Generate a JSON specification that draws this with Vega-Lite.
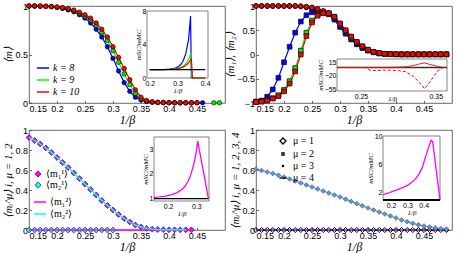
{
"$schema":"https://vega.github.io/schema/vega-lite/v6.json",
"background":"white",
"padding":{"left":2,"top":1,"right":0,"bottom":0},
"autosize":{"type":"pad"},
"columns":2,
"spacing":{"row":27,"column":31},
"bounds":"flush",
"datasets":{
"A":[
{"x":0.15,"v":1,"k":"k = 8"},{"x":0.16,"v":1,"k":"k = 8"},{"x":0.17,"v":0.998,"k":"k = 8"},{"x":0.18,"v":0.996,"k":"k = 8"},{"x":0.19,"v":0.992,"k":"k = 8"},{"x":0.2,"v":0.985,"k":"k = 8"},{"x":0.21,"v":0.975,"k":"k = 8"},{"x":0.22,"v":0.96,"k":"k = 8"},{"x":0.23,"v":0.94,"k":"k = 8"},{"x":0.24,"v":0.91,"k":"k = 8"},{"x":0.25,"v":0.875,"k":"k = 8"},{"x":0.26,"v":0.825,"k":"k = 8"},{"x":0.27,"v":0.76,"k":"k = 8"},{"x":0.28,"v":0.68,"k":"k = 8"},{"x":0.29,"v":0.58,"k":"k = 8"},{"x":0.3,"v":0.46,"k":"k = 8"},{"x":0.31,"v":0.33,"k":"k = 8"},{"x":0.32,"v":0.21,"k":"k = 8"},{"x":0.33,"v":0.12,"k":"k = 8"},{"x":0.34,"v":0.06,"k":"k = 8"},{"x":0.35,"v":0.03,"k":"k = 8"},{"x":0.36,"v":0.015,"k":"k = 8"},{"x":0.37,"v":0.008,"k":"k = 8"},{"x":0.38,"v":0.005,"k":"k = 8"},{"x":0.39,"v":0.004,"k":"k = 8"},{"x":0.4,"v":0.003,"k":"k = 8"},{"x":0.41,"v":0.003,"k":"k = 8"},{"x":0.42,"v":0.002,"k":"k = 8"},{"x":0.43,"v":0.002,"k":"k = 8"},{"x":0.44,"v":0.002,"k":"k = 8"},{"x":0.45,"v":0.002,"k":"k = 8"},{"x":0.46,"v":0.002,"k":"k = 8"},
{"x":0.15,"v":1,"k":"k = 9"},{"x":0.16,"v":1,"k":"k = 9"},{"x":0.17,"v":0.999,"k":"k = 9"},{"x":0.18,"v":0.997,"k":"k = 9"},{"x":0.19,"v":0.994,"k":"k = 9"},{"x":0.2,"v":0.988,"k":"k = 9"},{"x":0.21,"v":0.98,"k":"k = 9"},{"x":0.22,"v":0.968,"k":"k = 9"},{"x":0.23,"v":0.95,"k":"k = 9"},{"x":0.24,"v":0.925,"k":"k = 9"},{"x":0.25,"v":0.895,"k":"k = 9"},{"x":0.26,"v":0.855,"k":"k = 9"},{"x":0.27,"v":0.8,"k":"k = 9"},{"x":0.28,"v":0.73,"k":"k = 9"},{"x":0.29,"v":0.645,"k":"k = 9"},{"x":0.3,"v":0.54,"k":"k = 9"},{"x":0.31,"v":0.42,"k":"k = 9"},{"x":0.32,"v":0.3,"k":"k = 9"},{"x":0.33,"v":0.19,"k":"k = 9"},{"x":0.34,"v":0.1,"k":"k = 9"},{"x":0.35,"v":0.045,"k":"k = 9"},{"x":0.36,"v":0.02,"k":"k = 9"},{"x":0.37,"v":0.01,"k":"k = 9"},{"x":0.38,"v":0.006,"k":"k = 9"},{"x":0.39,"v":0.004,"k":"k = 9"},{"x":0.4,"v":0.003,"k":"k = 9"},{"x":0.41,"v":0.003,"k":"k = 9"},{"x":0.42,"v":0.002,"k":"k = 9"},{"x":0.43,"v":0.002,"k":"k = 9"},{"x":0.44,"v":0.002,"k":"k = 9"},{"x":0.48,"v":0.002,"k":"k = 9","s":"b"},{"x":0.49,"v":0.002,"k":"k = 9","s":"b"},
{"x":0.15,"v":1,"k":"k = 10"},{"x":0.16,"v":1,"k":"k = 10"},{"x":0.17,"v":1,"k":"k = 10"},{"x":0.18,"v":0.998,"k":"k = 10"},{"x":0.19,"v":0.995,"k":"k = 10"},{"x":0.2,"v":0.99,"k":"k = 10"},{"x":0.21,"v":0.983,"k":"k = 10"},{"x":0.22,"v":0.973,"k":"k = 10"},{"x":0.23,"v":0.958,"k":"k = 10"},{"x":0.24,"v":0.937,"k":"k = 10"},{"x":0.25,"v":0.91,"k":"k = 10"},{"x":0.26,"v":0.875,"k":"k = 10"},{"x":0.27,"v":0.825,"k":"k = 10"},{"x":0.28,"v":0.76,"k":"k = 10"},{"x":0.29,"v":0.68,"k":"k = 10"},{"x":0.3,"v":0.58,"k":"k = 10"},{"x":0.31,"v":0.47,"k":"k = 10"},{"x":0.32,"v":0.355,"k":"k = 10"},{"x":0.33,"v":0.24,"k":"k = 10"},{"x":0.34,"v":0.135,"k":"k = 10"},{"x":0.35,"v":0.06,"k":"k = 10"},{"x":0.36,"v":0.025,"k":"k = 10"},{"x":0.37,"v":0.012,"k":"k = 10"},{"x":0.38,"v":0.007,"k":"k = 10"},{"x":0.39,"v":0.005,"k":"k = 10"},{"x":0.4,"v":0.004,"k":"k = 10"},{"x":0.41,"v":0.003,"k":"k = 10"},{"x":0.42,"v":0.003,"k":"k = 10"},{"x":0.43,"v":0.003,"k":"k = 10"},{"x":0.44,"v":0.003,"k":"k = 10"},{"x":0.45,"v":0.003,"k":"k = 10"}
],
"AI":[
{"x":0.2,"r":1,"k":"k = 8"},{"x":0.25,"r":1.01,"k":"k = 8"},{"x":0.27,"r":1.05,"k":"k = 8"},{"x":0.29,"r":1.15,"k":"k = 8"},{"x":0.3,"r":1.3,"k":"k = 8"},{"x":0.31,"r":1.55,"k":"k = 8"},{"x":0.32,"r":2,"k":"k = 8"},{"x":0.33,"r":2.9,"k":"k = 8"},{"x":0.34,"r":4.6,"k":"k = 8"},{"x":0.347,"r":7.4,"k":"k = 8"},{"x":0.35,"r":0.02,"k":"k = 8"},{"x":0.4,"r":0,"k":"k = 8"},
{"x":0.2,"r":1,"k":"k = 9"},{"x":0.27,"r":1.02,"k":"k = 9"},{"x":0.29,"r":1.08,"k":"k = 9"},{"x":0.31,"r":1.22,"k":"k = 9"},{"x":0.32,"r":1.4,"k":"k = 9"},{"x":0.33,"r":1.7,"k":"k = 9"},{"x":0.34,"r":2.2,"k":"k = 9"},{"x":0.348,"r":3,"k":"k = 9"},{"x":0.352,"r":0.02,"k":"k = 9"},{"x":0.4,"r":0,"k":"k = 9"},
{"x":0.2,"r":1,"k":"k = 10"},{"x":0.28,"r":1.02,"k":"k = 10"},{"x":0.3,"r":1.1,"k":"k = 10"},{"x":0.32,"r":1.3,"k":"k = 10"},{"x":0.33,"r":1.5,"k":"k = 10"},{"x":0.34,"r":1.8,"k":"k = 10"},{"x":0.35,"r":2.3,"k":"k = 10"},{"x":0.354,"r":0.02,"k":"k = 10"},{"x":0.4,"r":0,"k":"k = 10"}
],
"B":[
{"x":0.15,"v":1,"k":"8","c":"m1"},{"x":0.16,"v":1,"k":"8","c":"m1"},{"x":0.17,"v":1,"k":"8","c":"m1"},{"x":0.18,"v":1,"k":"8","c":"m1"},{"x":0.19,"v":1,"k":"8","c":"m1"},{"x":0.2,"v":1,"k":"8","c":"m1"},{"x":0.21,"v":1,"k":"8","c":"m1"},{"x":0.22,"v":1,"k":"8","c":"m1"},{"x":0.23,"v":0.99,"k":"8","c":"m1"},{"x":0.24,"v":0.97,"k":"8","c":"m1"},{"x":0.25,"v":0.94,"k":"8","c":"m1"},{"x":0.26,"v":0.905,"k":"8","c":"m1"},{"x":0.27,"v":0.875,"k":"8","c":"m1"},{"x":0.28,"v":0.83,"k":"8","c":"m1"},{"x":0.29,"v":0.72,"k":"8","c":"m1"},{"x":0.3,"v":0.57,"k":"8","c":"m1"},{"x":0.31,"v":0.43,"k":"8","c":"m1"},{"x":0.32,"v":0.31,"k":"8","c":"m1"},{"x":0.33,"v":0.21,"k":"8","c":"m1"},{"x":0.34,"v":0.135,"k":"8","c":"m1"},{"x":0.35,"v":0.08,"k":"8","c":"m1"},{"x":0.36,"v":0.045,"k":"8","c":"m1"},{"x":0.37,"v":0.022,"k":"8","c":"m1"},{"x":0.38,"v":0.011,"k":"8","c":"m1"},{"x":0.39,"v":0.006,"k":"8","c":"m1"},{"x":0.4,"v":0.004,"k":"8","c":"m1"},{"x":0.41,"v":0.003,"k":"8","c":"m1"},{"x":0.42,"v":0.003,"k":"8","c":"m1"},{"x":0.43,"v":0.003,"k":"8","c":"m1"},{"x":0.44,"v":0.003,"k":"8","c":"m1"},{"x":0.45,"v":0.003,"k":"8","c":"m1"},{"x":0.46,"v":0.003,"k":"8","c":"m1"},{"x":0.47,"v":0.003,"k":"8","c":"m1"},{"x":0.48,"v":0.003,"k":"8","c":"m1"},{"x":0.49,"v":0.003,"k":"8","c":"m1"},
{"x":0.15,"v":-0.97,"k":"8","c":"m2"},{"x":0.16,"v":-0.95,"k":"8","c":"m2"},{"x":0.17,"v":-0.87,"k":"8","c":"m2"},{"x":0.18,"v":-0.72,"k":"8","c":"m2"},{"x":0.19,"v":-0.48,"k":"8","c":"m2"},{"x":0.2,"v":-0.16,"k":"8","c":"m2"},{"x":0.21,"v":0.16,"k":"8","c":"m2"},{"x":0.22,"v":0.45,"k":"8","c":"m2"},{"x":0.23,"v":0.68,"k":"8","c":"m2"},{"x":0.24,"v":0.81,"k":"8","c":"m2"},{"x":0.25,"v":0.87,"k":"8","c":"m2"},{"x":0.26,"v":0.88,"k":"8","c":"m2"},{"x":0.27,"v":0.875,"k":"8","c":"m2"},{"x":0.28,"v":0.83,"k":"8","c":"m2"},{"x":0.29,"v":0.72,"k":"8","c":"m2"},{"x":0.3,"v":0.57,"k":"8","c":"m2"},{"x":0.31,"v":0.43,"k":"8","c":"m2"},{"x":0.32,"v":0.31,"k":"8","c":"m2"},{"x":0.33,"v":0.21,"k":"8","c":"m2"},{"x":0.34,"v":0.135,"k":"8","c":"m2"},{"x":0.35,"v":0.08,"k":"8","c":"m2"},{"x":0.36,"v":0.045,"k":"8","c":"m2"},{"x":0.37,"v":0.022,"k":"8","c":"m2"},{"x":0.38,"v":0.011,"k":"8","c":"m2"},{"x":0.39,"v":0.006,"k":"8","c":"m2"},{"x":0.4,"v":0.004,"k":"8","c":"m2"},{"x":0.41,"v":0.003,"k":"8","c":"m2"},{"x":0.42,"v":0.003,"k":"8","c":"m2"},{"x":0.43,"v":0.003,"k":"8","c":"m2"},{"x":0.44,"v":0.003,"k":"8","c":"m2"},{"x":0.45,"v":0.003,"k":"8","c":"m2"},{"x":0.46,"v":0.003,"k":"8","c":"m2"},{"x":0.47,"v":0.003,"k":"8","c":"m2"},{"x":0.48,"v":0.003,"k":"8","c":"m2"},{"x":0.49,"v":0.003,"k":"8","c":"m2"},
{"x":0.15,"v":1,"k":"9","c":"m1"},{"x":0.16,"v":1,"k":"9","c":"m1"},{"x":0.17,"v":1,"k":"9","c":"m1"},{"x":0.18,"v":1,"k":"9","c":"m1"},{"x":0.19,"v":1,"k":"9","c":"m1"},{"x":0.2,"v":1,"k":"9","c":"m1"},{"x":0.21,"v":1,"k":"9","c":"m1"},{"x":0.22,"v":1,"k":"9","c":"m1"},{"x":0.23,"v":0.995,"k":"9","c":"m1"},{"x":0.24,"v":0.985,"k":"9","c":"m1"},{"x":0.25,"v":0.97,"k":"9","c":"m1"},{"x":0.26,"v":0.935,"k":"9","c":"m1"},{"x":0.27,"v":0.89,"k":"9","c":"m1"},{"x":0.28,"v":0.85,"k":"9","c":"m1"},{"x":0.29,"v":0.77,"k":"9","c":"m1"},{"x":0.3,"v":0.62,"k":"9","c":"m1"},{"x":0.31,"v":0.48,"k":"9","c":"m1"},{"x":0.32,"v":0.35,"k":"9","c":"m1"},{"x":0.33,"v":0.245,"k":"9","c":"m1"},{"x":0.34,"v":0.16,"k":"9","c":"m1"},{"x":0.35,"v":0.095,"k":"9","c":"m1"},{"x":0.36,"v":0.05,"k":"9","c":"m1"},{"x":0.37,"v":0.027,"k":"9","c":"m1"},{"x":0.38,"v":0.013,"k":"9","c":"m1"},{"x":0.39,"v":0.007,"k":"9","c":"m1"},{"x":0.4,"v":0.004,"k":"9","c":"m1"},{"x":0.41,"v":0.003,"k":"9","c":"m1"},{"x":0.42,"v":0.003,"k":"9","c":"m1"},{"x":0.43,"v":0.003,"k":"9","c":"m1"},{"x":0.44,"v":0.003,"k":"9","c":"m1"},{"x":0.45,"v":0.003,"k":"9","c":"m1"},{"x":0.46,"v":0.003,"k":"9","c":"m1"},{"x":0.47,"v":0.003,"k":"9","c":"m1"},{"x":0.48,"v":0.003,"k":"9","c":"m1"},{"x":0.49,"v":0.003,"k":"9","c":"m1"},
{"x":0.15,"v":-0.98,"k":"9","c":"m2"},{"x":0.16,"v":-0.97,"k":"9","c":"m2"},{"x":0.17,"v":-0.945,"k":"9","c":"m2"},{"x":0.18,"v":-0.9,"k":"9","c":"m2"},{"x":0.19,"v":-0.84,"k":"9","c":"m2"},{"x":0.2,"v":-0.73,"k":"9","c":"m2"},{"x":0.21,"v":-0.55,"k":"9","c":"m2"},{"x":0.22,"v":-0.28,"k":"9","c":"m2"},{"x":0.23,"v":0.08,"k":"9","c":"m2"},{"x":0.24,"v":0.45,"k":"9","c":"m2"},{"x":0.25,"v":0.7,"k":"9","c":"m2"},{"x":0.26,"v":0.82,"k":"9","c":"m2"},{"x":0.27,"v":0.86,"k":"9","c":"m2"},{"x":0.28,"v":0.85,"k":"9","c":"m2"},{"x":0.29,"v":0.77,"k":"9","c":"m2"},{"x":0.3,"v":0.62,"k":"9","c":"m2"},{"x":0.31,"v":0.48,"k":"9","c":"m2"},{"x":0.32,"v":0.35,"k":"9","c":"m2"},{"x":0.33,"v":0.245,"k":"9","c":"m2"},{"x":0.34,"v":0.16,"k":"9","c":"m2"},{"x":0.35,"v":0.095,"k":"9","c":"m2"},{"x":0.36,"v":0.05,"k":"9","c":"m2"},{"x":0.37,"v":0.027,"k":"9","c":"m2"},{"x":0.38,"v":0.013,"k":"9","c":"m2"},{"x":0.39,"v":0.007,"k":"9","c":"m2"},{"x":0.4,"v":0.004,"k":"9","c":"m2"},{"x":0.41,"v":0.003,"k":"9","c":"m2"},{"x":0.42,"v":0.003,"k":"9","c":"m2"},{"x":0.43,"v":0.003,"k":"9","c":"m2"},{"x":0.44,"v":0.003,"k":"9","c":"m2"},{"x":0.45,"v":0.003,"k":"9","c":"m2"},{"x":0.46,"v":0.003,"k":"9","c":"m2"},{"x":0.47,"v":0.003,"k":"9","c":"m2"},{"x":0.48,"v":0.003,"k":"9","c":"m2"},{"x":0.49,"v":0.003,"k":"9","c":"m2"},
{"x":0.15,"v":1,"k":"10","c":"m1"},{"x":0.16,"v":1,"k":"10","c":"m1"},{"x":0.17,"v":1,"k":"10","c":"m1"},{"x":0.18,"v":1,"k":"10","c":"m1"},{"x":0.19,"v":1,"k":"10","c":"m1"},{"x":0.2,"v":1,"k":"10","c":"m1"},{"x":0.21,"v":1,"k":"10","c":"m1"},{"x":0.22,"v":1,"k":"10","c":"m1"},{"x":0.23,"v":0.995,"k":"10","c":"m1"},{"x":0.24,"v":0.985,"k":"10","c":"m1"},{"x":0.25,"v":0.97,"k":"10","c":"m1"},{"x":0.26,"v":0.94,"k":"10","c":"m1"},{"x":0.27,"v":0.9,"k":"10","c":"m1"},{"x":0.28,"v":0.85,"k":"10","c":"m1"},{"x":0.29,"v":0.78,"k":"10","c":"m1"},{"x":0.3,"v":0.64,"k":"10","c":"m1"},{"x":0.31,"v":0.5,"k":"10","c":"m1"},{"x":0.32,"v":0.37,"k":"10","c":"m1"},{"x":0.33,"v":0.26,"k":"10","c":"m1"},{"x":0.34,"v":0.17,"k":"10","c":"m1"},{"x":0.35,"v":0.1,"k":"10","c":"m1"},{"x":0.36,"v":0.055,"k":"10","c":"m1"},{"x":0.37,"v":0.03,"k":"10","c":"m1"},{"x":0.38,"v":0.015,"k":"10","c":"m1"},{"x":0.39,"v":0.008,"k":"10","c":"m1"},{"x":0.4,"v":0.005,"k":"10","c":"m1"},{"x":0.41,"v":0.003,"k":"10","c":"m1"},{"x":0.42,"v":0.003,"k":"10","c":"m1"},{"x":0.43,"v":0.003,"k":"10","c":"m1"},{"x":0.44,"v":0.003,"k":"10","c":"m1"},{"x":0.45,"v":0.003,"k":"10","c":"m1"},{"x":0.46,"v":0.003,"k":"10","c":"m1"},{"x":0.47,"v":0.003,"k":"10","c":"m1"},{"x":0.48,"v":0.003,"k":"10","c":"m1"},{"x":0.49,"v":0.003,"k":"10","c":"m1"},
{"x":0.15,"v":-0.98,"k":"10","c":"m2"},{"x":0.16,"v":-0.97,"k":"10","c":"m2"},{"x":0.17,"v":-0.95,"k":"10","c":"m2"},{"x":0.18,"v":-0.91,"k":"10","c":"m2"},{"x":0.19,"v":-0.86,"k":"10","c":"m2"},{"x":0.2,"v":-0.76,"k":"10","c":"m2"},{"x":0.21,"v":-0.6,"k":"10","c":"m2"},{"x":0.22,"v":-0.35,"k":"10","c":"m2"},{"x":0.23,"v":0,"k":"10","c":"m2"},{"x":0.24,"v":0.38,"k":"10","c":"m2"},{"x":0.25,"v":0.66,"k":"10","c":"m2"},{"x":0.26,"v":0.8,"k":"10","c":"m2"},{"x":0.27,"v":0.85,"k":"10","c":"m2"},{"x":0.28,"v":0.85,"k":"10","c":"m2"},{"x":0.29,"v":0.78,"k":"10","c":"m2"},{"x":0.3,"v":0.64,"k":"10","c":"m2"},{"x":0.31,"v":0.5,"k":"10","c":"m2"},{"x":0.32,"v":0.37,"k":"10","c":"m2"},{"x":0.33,"v":0.26,"k":"10","c":"m2"},{"x":0.34,"v":0.17,"k":"10","c":"m2"},{"x":0.35,"v":0.1,"k":"10","c":"m2"},{"x":0.36,"v":0.055,"k":"10","c":"m2"},{"x":0.37,"v":0.03,"k":"10","c":"m2"},{"x":0.38,"v":0.015,"k":"10","c":"m2"},{"x":0.39,"v":0.008,"k":"10","c":"m2"},{"x":0.4,"v":0.005,"k":"10","c":"m2"},{"x":0.41,"v":0.003,"k":"10","c":"m2"},{"x":0.42,"v":0.003,"k":"10","c":"m2"},{"x":0.43,"v":0.003,"k":"10","c":"m2"},{"x":0.44,"v":0.003,"k":"10","c":"m2"},{"x":0.45,"v":0.003,"k":"10","c":"m2"},{"x":0.46,"v":0.003,"k":"10","c":"m2"},{"x":0.47,"v":0.003,"k":"10","c":"m2"},{"x":0.48,"v":0.003,"k":"10","c":"m2"},{"x":0.49,"v":0.003,"k":"10","c":"m2"}
],
"BI":[
{"x":0.22,"r":1,"t":"solid"},{"x":0.28,"r":1,"t":"solid"},{"x":0.3,"r":1.5,"t":"solid"},{"x":0.31,"r":3,"t":"solid"},{"x":0.32,"r":6,"t":"solid"},{"x":0.33,"r":11,"t":"solid"},{"x":0.335,"r":13,"t":"solid"},{"x":0.34,"r":10,"t":"solid"},{"x":0.35,"r":5,"t":"solid"},{"x":0.36,"r":1,"t":"solid"},
{"x":0.22,"r":1,"t":"dash"},{"x":0.255,"r":1,"t":"dash"},{"x":0.262,"r":-6,"t":"dash"},{"x":0.27,"r":-7,"t":"dash"},{"x":0.28,"r":-6,"t":"dash"},{"x":0.29,"r":-6,"t":"dash"},{"x":0.3,"r":-7,"t":"dash"},{"x":0.31,"r":-10,"t":"dash"},{"x":0.32,"r":-22,"t":"dash"},{"x":0.33,"r":-42,"t":"dash"},{"x":0.335,"r":-54,"t":"dash"},{"x":0.34,"r":-42,"t":"dash"},{"x":0.35,"r":-15,"t":"dash"},{"x":0.355,"r":-3,"t":"dash"},{"x":0.36,"r":1,"t":"dash"}
],
"C1":[
{"x":0.15,"v":0,"s":"⟨m₂¹⟩"},{"x":0.16,"v":0,"s":"⟨m₂¹⟩"},{"x":0.17,"v":0,"s":"⟨m₂¹⟩"},{"x":0.18,"v":0,"s":"⟨m₂¹⟩"},{"x":0.19,"v":0,"s":"⟨m₂¹⟩"},{"x":0.2,"v":0,"s":"⟨m₂¹⟩"},{"x":0.21,"v":0,"s":"⟨m₂¹⟩"},{"x":0.22,"v":0,"s":"⟨m₂¹⟩"},{"x":0.23,"v":0,"s":"⟨m₂¹⟩"},{"x":0.24,"v":0,"s":"⟨m₂¹⟩"},{"x":0.25,"v":0,"s":"⟨m₂¹⟩"},{"x":0.26,"v":0,"s":"⟨m₂¹⟩"},{"x":0.27,"v":0,"s":"⟨m₂¹⟩"},{"x":0.28,"v":0,"s":"⟨m₂¹⟩"},{"x":0.29,"v":0,"s":"⟨m₂¹⟩"},{"x":0.3,"v":0,"s":"⟨m₂¹⟩"},
{"x":0.15,"v":0.925,"s":"⟨m₁¹⟩"},{"x":0.16,"v":0.895,"s":"⟨m₁¹⟩"},{"x":0.17,"v":0.86,"s":"⟨m₁¹⟩"},{"x":0.18,"v":0.82,"s":"⟨m₁¹⟩"},{"x":0.19,"v":0.775,"s":"⟨m₁¹⟩"},{"x":0.2,"v":0.725,"s":"⟨m₁¹⟩"},{"x":0.21,"v":0.675,"s":"⟨m₁¹⟩"},{"x":0.22,"v":0.625,"s":"⟨m₁¹⟩"},{"x":0.23,"v":0.57,"s":"⟨m₁¹⟩"},{"x":0.24,"v":0.515,"s":"⟨m₁¹⟩"},{"x":0.25,"v":0.46,"s":"⟨m₁¹⟩"},{"x":0.26,"v":0.405,"s":"⟨m₁¹⟩"},{"x":0.27,"v":0.35,"s":"⟨m₁¹⟩"},{"x":0.28,"v":0.295,"s":"⟨m₁¹⟩"},{"x":0.29,"v":0.245,"s":"⟨m₁¹⟩"},{"x":0.3,"v":0.2,"s":"⟨m₁¹⟩"},{"x":0.31,"v":0.155,"s":"⟨m₁¹⟩"},{"x":0.32,"v":0.115,"s":"⟨m₁¹⟩"},{"x":0.33,"v":0.08,"s":"⟨m₁¹⟩"},{"x":0.34,"v":0.05,"s":"⟨m₁¹⟩"},{"x":0.35,"v":0.03,"s":"⟨m₁¹⟩"},{"x":0.36,"v":0.017,"s":"⟨m₁¹⟩"},{"x":0.37,"v":0.009,"s":"⟨m₁¹⟩"},{"x":0.38,"v":0.005,"s":"⟨m₁¹⟩"},{"x":0.39,"v":0.003,"s":"⟨m₁¹⟩"},{"x":0.4,"v":0.002,"s":"⟨m₁¹⟩"},{"x":0.41,"v":0.002,"s":"⟨m₁¹⟩"},{"x":0.42,"v":0.002,"s":"⟨m₁¹⟩"},{"x":0.43,"v":0.002,"s":"⟨m₁¹⟩"},{"x":0.44,"v":0.002,"s":"⟨m₁¹⟩"}
],
"C2":[
{"x":0.15,"v":0,"s":"⟨m₁²⟩"},{"x":0.44,"v":0,"s":"⟨m₁²⟩"},
{"x":0.15,"v":0.925,"s":"⟨m₂²⟩"},{"x":0.16,"v":0.895,"s":"⟨m₂²⟩"},{"x":0.17,"v":0.86,"s":"⟨m₂²⟩"},{"x":0.18,"v":0.82,"s":"⟨m₂²⟩"},{"x":0.19,"v":0.775,"s":"⟨m₂²⟩"},{"x":0.2,"v":0.725,"s":"⟨m₂²⟩"},{"x":0.21,"v":0.675,"s":"⟨m₂²⟩"},{"x":0.22,"v":0.625,"s":"⟨m₂²⟩"},{"x":0.23,"v":0.57,"s":"⟨m₂²⟩"},{"x":0.24,"v":0.515,"s":"⟨m₂²⟩"},{"x":0.25,"v":0.46,"s":"⟨m₂²⟩"},{"x":0.26,"v":0.405,"s":"⟨m₂²⟩"},{"x":0.27,"v":0.35,"s":"⟨m₂²⟩"},{"x":0.28,"v":0.295,"s":"⟨m₂²⟩"},{"x":0.29,"v":0.245,"s":"⟨m₂²⟩"},{"x":0.3,"v":0.2,"s":"⟨m₂²⟩"},{"x":0.31,"v":0.155,"s":"⟨m₂²⟩"},{"x":0.32,"v":0.115,"s":"⟨m₂²⟩"},{"x":0.33,"v":0.08,"s":"⟨m₂²⟩"},{"x":0.34,"v":0.05,"s":"⟨m₂²⟩"},{"x":0.35,"v":0.03,"s":"⟨m₂²⟩"},{"x":0.36,"v":0.017,"s":"⟨m₂²⟩"},{"x":0.37,"v":0.009,"s":"⟨m₂²⟩"},{"x":0.38,"v":0.005,"s":"⟨m₂²⟩"},{"x":0.39,"v":0.003,"s":"⟨m₂²⟩"},{"x":0.4,"v":0.002,"s":"⟨m₂²⟩"},{"x":0.41,"v":0.002,"s":"⟨m₂²⟩"},{"x":0.42,"v":0.002,"s":"⟨m₂²⟩"},{"x":0.43,"v":0.002,"s":"⟨m₂²⟩"}
],
"CI":[
{"x":0.15,"r":1.05},{"x":0.17,"r":1.07},{"x":0.19,"r":1.1},{"x":0.21,"r":1.15},{"x":0.23,"r":1.23},{"x":0.25,"r":1.38},{"x":0.26,"r":1.5},{"x":0.27,"r":1.68},{"x":0.28,"r":1.95},{"x":0.29,"r":2.35},{"x":0.3,"r":2.9},{"x":0.305,"r":3.33},{"x":0.343,"r":1}
],
"D0":[
{"x":0.15,"v":0,"mu":"μ = 1"},{"x":0.16,"v":0,"mu":"μ = 1"},{"x":0.17,"v":0,"mu":"μ = 1"},{"x":0.18,"v":0,"mu":"μ = 1"},{"x":0.19,"v":0,"mu":"μ = 1"},{"x":0.2,"v":0,"mu":"μ = 1"},{"x":0.21,"v":0,"mu":"μ = 1"},{"x":0.22,"v":0,"mu":"μ = 1"},{"x":0.23,"v":0,"mu":"μ = 1"},{"x":0.24,"v":0,"mu":"μ = 1"},{"x":0.25,"v":0,"mu":"μ = 1"},{"x":0.26,"v":0,"mu":"μ = 1"},{"x":0.27,"v":0,"mu":"μ = 1"},{"x":0.28,"v":0,"mu":"μ = 1"},{"x":0.29,"v":0,"mu":"μ = 1"},{"x":0.3,"v":0,"mu":"μ = 1"},{"x":0.31,"v":0,"mu":"μ = 1"},{"x":0.32,"v":0,"mu":"μ = 1"},{"x":0.33,"v":0,"mu":"μ = 1"},{"x":0.34,"v":0,"mu":"μ = 1"},{"x":0.35,"v":0,"mu":"μ = 1"},{"x":0.36,"v":0,"mu":"μ = 1"},{"x":0.37,"v":0,"mu":"μ = 1"},{"x":0.38,"v":0,"mu":"μ = 1"},{"x":0.39,"v":0,"mu":"μ = 1"},{"x":0.4,"v":0,"mu":"μ = 1"},{"x":0.41,"v":0,"mu":"μ = 1"},{"x":0.42,"v":0,"mu":"μ = 1"},{"x":0.43,"v":0,"mu":"μ = 1"},{"x":0.44,"v":0,"mu":"μ = 1"},{"x":0.45,"v":0,"mu":"μ = 1"},{"x":0.46,"v":0,"mu":"μ = 1"},{"x":0.47,"v":0,"mu":"μ = 1"},{"x":0.48,"v":0,"mu":"μ = 1"},{"x":0.49,"v":0,"mu":"μ = 1"}
],
"D1":[
{"x":0.15,"v":0.61},{"x":0.16,"v":0.595},{"x":0.17,"v":0.58},{"x":0.18,"v":0.565},{"x":0.19,"v":0.548},{"x":0.2,"v":0.53},{"x":0.21,"v":0.51},{"x":0.22,"v":0.49},{"x":0.23,"v":0.47},{"x":0.24,"v":0.45},{"x":0.25,"v":0.43},{"x":0.26,"v":0.41},{"x":0.27,"v":0.39},{"x":0.28,"v":0.37},{"x":0.29,"v":0.35},{"x":0.3,"v":0.33},{"x":0.31,"v":0.308},{"x":0.32,"v":0.286},{"x":0.33,"v":0.264},{"x":0.34,"v":0.242},{"x":0.35,"v":0.22},{"x":0.36,"v":0.2},{"x":0.37,"v":0.18},{"x":0.38,"v":0.16},{"x":0.39,"v":0.14},{"x":0.4,"v":0.12},{"x":0.41,"v":0.1},{"x":0.42,"v":0.083},{"x":0.43,"v":0.066},{"x":0.44,"v":0.052},{"x":0.45,"v":0.04},{"x":0.46,"v":0.03},{"x":0.47,"v":0.021},{"x":0.48,"v":0.014},{"x":0.49,"v":0.009}
],
"DI":[
{"x":0.15,"r":1.75},{"x":0.18,"r":1.95},{"x":0.21,"r":2.2},{"x":0.24,"r":2.45},{"x":0.27,"r":2.75},{"x":0.3,"r":3.05},{"x":0.33,"r":3.55},{"x":0.35,"r":4},{"x":0.37,"r":4.6},{"x":0.39,"r":5.5},{"x":0.41,"r":7},{"x":0.43,"r":8.4},{"x":0.445,"r":9.4},{"x":0.455,"r":9.2},{"x":0.5,"r":1}
]
},
"concat":[
{
"width":196,"height":97,
"layer":[
 {"data":{"name":"A"},
  "encoding":{
   "x":{"field":"x","type":"quantitative","scale":{"domain":[0.15,0.5],"nice":false,"zero":false},"axis":{"values":[0.15,0.2,0.25,0.3,0.35,0.4,0.45],"format":"~g","title":"1/β"}},
   "y":{"field":"v","type":"quantitative","scale":{"domain":[0,1],"nice":false,"zero":false},"axis":{"values":[0,0.5,1],"format":"~g","title":"⟨m⟩"}}},
  "layer":[
   {"mark":{"type":"line","strokeWidth":1.2},"encoding":{"stroke":{"field":"k","type":"nominal","scale":{"domain":["k = 8","k = 9","k = 10"],"range":["#0000ff","#00ff00","#ff0000"]},"legend":{"orient":"none","legendX":7,"legendY":55,"title":null}},"detail":{"field":"s","type":"nominal"}}},
   {"mark":{"type":"point","shape":"circle","filled":true,"size":20,"stroke":"#000","strokeWidth":0.6,"opacity":1},"encoding":{"fill":{"field":"k","type":"nominal","scale":{"domain":["k = 8","k = 9","k = 10"],"range":["#0000ff","#00ee00","#ff0000"]},"legend":null}}},
   {"data":{"values":[{}]},"mark":{"type":"text","font":"Liberation Serif","fontStyle":"italic","fontSize":7,"align":"left"},"encoding":{"x":{"datum":0.153},"y":{"datum":0.92},"text":{"value":"a"}}}
  ]},
 {"layer":[
   {"data":{"values":[{}]},"mark":{"type":"rect","fill":"#fff","stroke":"#666","strokeWidth":0.8},"encoding":{"x":{"datum":0.19},"x2":{"datum":0.41},"y":{"datum":0},"y2":{"datum":8}}},
   {"data":{"name":"AI"},"mark":{"type":"line","strokeWidth":1.2},"encoding":{
     "x":{"field":"x","type":"quantitative","scale":{"domain":[0.19,0.41],"range":[118,179],"nice":false,"zero":false},"axis":{"orient":"bottom","offset":-25,"values":[0.2,0.3,0.4],"format":"~g","title":"1/β","labelFontSize":7,"titleFontSize":7,"labelPadding":1,"titlePadding":0,"ticks":false}},
     "y":{"field":"r","type":"quantitative","scale":{"domain":[0,8],"range":[72,5],"nice":false,"zero":false},"axis":{"orient":"left","offset":-118,"values":[0,2,4,6,8],"format":"d","title":"mSC/mMC","labelFontSize":7,"titleFontSize":7,"labelPadding":1,"titlePadding":1,"ticks":false}},
     "stroke":{"field":"k","type":"nominal","scale":{"domain":["k = 8","k = 9","k = 10"],"range":["#0000ff","#00ff00","#ff0000"]},"legend":null}}},
   {"data":{"values":[{"x":0.2,"r":1},{"x":0.4,"r":1}]},"mark":{"type":"line","stroke":"#000","strokeWidth":1.3},"encoding":{"x":{"field":"x","type":"quantitative"},"y":{"field":"r","type":"quantitative"}}}
 ]}
],
"resolve":{"scale":{"x":"independent","y":"independent","stroke":"independent","fill":"independent"},"axis":{"x":"independent","y":"independent"}}
},
{
"width":196,"height":97,
"layer":[
 {"data":{"name":"B"},
  "encoding":{
   "x":{"field":"x","type":"quantitative","scale":{"domain":[0.15,0.5],"nice":false,"zero":false},"axis":{"values":[0.15,0.2,0.25,0.3,0.35,0.4,0.45],"format":"~g","title":"1/β"}},
   "y":{"field":"v","type":"quantitative","scale":{"domain":[-1,1],"nice":false,"zero":false},"axis":{"values":[-1,-0.5,0,0.5,1],"format":"~g","title":"⟨m₁⟩, ⟨m₂⟩"}}},
  "layer":[
   {"mark":{"type":"line","strokeWidth":1.2},"encoding":{"stroke":{"field":"k","type":"nominal","scale":{"domain":["8","9","10"],"range":["#0000ff","#00ff00","#ff0000"]},"legend":null},"detail":{"field":"c","type":"nominal"}}},
   {"mark":{"type":"point","filled":true,"size":22,"stroke":"#111","strokeWidth":0.8,"opacity":1},"encoding":{"fill":{"field":"k","type":"nominal","scale":{"domain":["8","9","10"],"range":["#0000ff","#00ee00","#ff0000"]},"legend":null},"shape":{"field":"c","type":"nominal","scale":{"domain":["m1","m2"],"range":["circle","square"]},"legend":null}}},
   {"data":{"values":[{}]},"mark":{"type":"text","font":"Liberation Serif","fontStyle":"italic","fontSize":7,"align":"left"},"encoding":{"x":{"datum":0.155},"y":{"datum":0.82},"text":{"value":"b"}}}
  ]},
 {"layer":[
   {"data":{"values":[{}]},"mark":{"type":"rect","fill":"#fff","stroke":"#666","strokeWidth":0.8},"encoding":{"x":{"datum":0.218},"x2":{"datum":0.365},"y":{"datum":-60},"y2":{"datum":23}}},
   {"data":{"values":[{"x":0.218,"r":1},{"x":0.365,"r":1}]},"mark":{"type":"line","stroke":"#333","strokeWidth":1.3},"encoding":{"x":{"field":"x","type":"quantitative"},"y":{"field":"r","type":"quantitative"}}},
   {"data":{"name":"BI"},"mark":{"type":"line","stroke":"#ff0000","strokeWidth":1},"encoding":{
     "x":{"field":"x","type":"quantitative","scale":{"domain":[0.218,0.365],"range":[81,191],"nice":false,"zero":false},"axis":{"orient":"bottom","offset":-12,"values":[0.25,0.35],"format":"~g","title":"1/β","labelFontSize":7,"titleFontSize":7,"labelPadding":1,"titlePadding":-5,"ticks":false}},
     "y":{"field":"r","type":"quantitative","scale":{"domain":[-60,23],"range":[85,53],"nice":false,"zero":false},"axis":{"orient":"left","offset":-81,"values":[15,-20,-55],"format":"d","title":"mSC/mMC","labelFontSize":7,"titleFontSize":7,"labelPadding":1,"titlePadding":1,"ticks":false}},
     "strokeDash":{"field":"t","type":"nominal","scale":{"domain":["solid","dash"],"range":[[1,0],[3,2]]},"legend":null}}}
 ]}
],
"resolve":{"scale":{"x":"independent","y":"independent","stroke":"independent","fill":"independent"},"axis":{"x":"independent","y":"independent"}}
},
{
"width":196,"height":100,
"layer":[
 {"encoding":{
   "x":{"field":"x","type":"quantitative","scale":{"domain":[0.15,0.5],"nice":false,"zero":false},"axis":{"values":[0.15,0.2,0.25,0.3,0.35,0.4,0.45],"format":"~g","title":"1/β"}},
   "y":{"field":"v","type":"quantitative","scale":{"domain":[0,1],"nice":false,"zero":false},"axis":{"values":[0,0.2,0.4,0.6,0.8,1],"format":"~g","title":"⟨mᵢ^μ⟩ i, μ = 1, 2"}}},
  "layer":[
   {"data":{"name":"C1"},"mark":{"type":"point","shape":"diamond","filled":true,"size":34,"stroke":"#222","strokeWidth":0.7,"opacity":1},"encoding":{"fill":{"field":"s","type":"nominal","scale":{"domain":["⟨m₁¹⟩","⟨m₂¹⟩"],"range":["#ff00ff","#00ffff"]},"legend":{"orient":"none","legendX":4,"legendY":39,"title":null,"symbolStrokeColor":"#222","symbolStrokeWidth":0.7,"symbolSize":40,"labelFontStyle":"normal","rowPadding":1}}}},
   {"data":{"name":"C2"},"mark":{"type":"line","strokeWidth":1.4},"encoding":{"stroke":{"field":"s","type":"nominal","scale":{"domain":["⟨m₁²⟩","⟨m₂²⟩"],"range":["#ff00ff","#00ffff"]},"legend":{"orient":"none","legendX":4,"legendY":65,"title":null,"labelFontStyle":"normal","rowPadding":0}}}},
   {"data":{"values":[{}]},"mark":{"type":"text","font":"Liberation Serif","fontSize":11,"align":"left"},"encoding":{"x":{"datum":0.228},"y":{"datum":0.18},"text":{"value":"k = 10"}}},
   {"data":{"values":[{}]},"mark":{"type":"text","font":"Liberation Serif","fontStyle":"italic","fontSize":7,"align":"left"},"encoding":{"x":{"datum":0.19},"y":{"datum":0.965},"text":{"value":"c"}}}
  ]},
 {"layer":[
   {"data":{"values":[{}]},"mark":{"type":"rect","fill":"#fff","stroke":"#666","strokeWidth":0.8},"encoding":{"x":{"datum":0.15},"x2":{"datum":0.345},"y":{"datum":0.9},"y2":{"datum":3.5}}},
   {"data":{"name":"CI"},"mark":{"type":"line","stroke":"#ff00ff","strokeWidth":1.3},"encoding":{
     "x":{"field":"x","type":"quantitative","scale":{"domain":[0.15,0.345],"range":[125,180],"nice":false,"zero":false},"axis":{"orient":"bottom","offset":-29,"values":[0.2,0.3],"format":"~g","title":"1/β","labelFontSize":7,"titleFontSize":7,"labelPadding":1,"titlePadding":0,"ticks":false}},
     "y":{"field":"r","type":"quantitative","scale":{"domain":[0.9,3.5],"range":[71,7],"nice":false,"zero":false},"axis":{"orient":"left","offset":-125,"values":[1,1.5,2,2.5,3,3.5],"format":"~g","title":"mSC/mMC","labelFontSize":7,"titleFontSize":7,"labelPadding":1,"titlePadding":1,"ticks":false}}}},
   {"data":{"values":[{"x":0.15,"r":1},{"x":0.343,"r":1}]},"mark":{"type":"line","stroke":"#000","strokeWidth":1.3},"encoding":{"x":{"field":"x","type":"quantitative"},"y":{"field":"r","type":"quantitative"}}}
 ]}
],
"resolve":{"scale":{"x":"independent","y":"independent","stroke":"independent","fill":"independent"},"axis":{"x":"independent","y":"independent"}}
},
{
"width":196,"height":100,
"layer":[
 {"encoding":{
   "x":{"field":"x","type":"quantitative","scale":{"domain":[0.15,0.5],"nice":false,"zero":false},"axis":{"values":[0.15,0.2,0.25,0.3,0.35,0.4,0.45],"format":"~g","title":"1/β"}},
   "y":{"field":"v","type":"quantitative","scale":{"domain":[0,1],"nice":false,"zero":false},"axis":{"values":[0,0.2,0.4,0.6,0.8,1],"format":"~g","title":"⟨mᵢ^μ⟩ i, μ = 1, 2, 3, 4"}}},
  "layer":[
   {"data":{"name":"D0"},"mark":{"type":"line","stroke":"#7a2be0","strokeWidth":1.6},"encoding":{}},
   {"data":{"name":"D1"},"mark":{"type":"line","stroke":"#2ab5b5","strokeWidth":1.2},"encoding":{}},
   {"data":{"name":"D0"},"mark":{"type":"point","filled":false,"size":26,"stroke":"#000","strokeWidth":1,"opacity":1},"encoding":{
     "shape":{"field":"mu","type":"nominal","scale":{"domain":["μ = 1","μ = 2","μ = 3","μ = 4"],"range":["diamond","M-0.36,-0.36H0.36V0.36H-0.36Z","M-0.2,0A0.2,0.2 0 1,0 0.2,0A0.2,0.2 0 1,0 -0.2,0Z","M-1.2,0L1.2,0"]},"legend":{"orient":"none","legendX":22,"legendY":6,"title":null,"symbolStrokeColor":"#000","symbolFillColor":"#fff","symbolStrokeWidth":1.3,"symbolSize":36,"labelFontStyle":"normal","labelOffset":5,"rowPadding":2}}}},
   {"data":{"name":"D1"},"mark":{"type":"point","shape":"diamond","filled":true,"fill":"#2ab5b5","size":22,"stroke":"#a040c0","strokeWidth":0.8,"opacity":1},"encoding":{}},
   {"data":{"values":[{}]},"mark":{"type":"text","font":"Liberation Serif","fontSize":11,"align":"center"},"encoding":{"x":{"datum":0.196},"y":{"datum":0.14},"text":{"value":"k = 10"}}},
   {"data":{"values":[{}]},"mark":{"type":"text","font":"Liberation Serif","fontStyle":"italic","fontSize":7,"align":"left"},"encoding":{"x":{"datum":0.156},"y":{"datum":0.955},"text":{"value":"d"}}}
  ]},
 {"layer":[
   {"data":{"values":[{}]},"mark":{"type":"rect","fill":"#fff","stroke":"#666","strokeWidth":0.8},"encoding":{"x":{"datum":0.15},"x2":{"datum":0.5},"y":{"datum":1},"y2":{"datum":10}}},
   {"data":{"name":"DI"},"mark":{"type":"line","stroke":"#ff00ff","strokeWidth":1.3},"encoding":{
     "x":{"field":"x","type":"quantitative","scale":{"domain":[0.15,0.5],"range":[127,184],"nice":false,"zero":false},"axis":{"orient":"bottom","offset":-30,"values":[0.2,0.3,0.4],"format":"~g","title":"1/β","labelFontSize":7,"titleFontSize":7,"labelPadding":1,"titlePadding":0,"ticks":false}},
     "y":{"field":"r","type":"quantitative","scale":{"domain":[1,10],"range":[70,6],"nice":false,"zero":false},"axis":{"orient":"left","offset":-127,"values":[2,4,6,8,10],"format":"d","title":"mSC/mMC","labelFontSize":7,"titleFontSize":7,"labelPadding":1,"titlePadding":1,"ticks":false}}}},
   {"data":{"values":[{"x":0.15,"r":1},{"x":0.5,"r":1}]},"mark":{"type":"line","stroke":"#000","strokeWidth":2},"encoding":{"x":{"field":"x","type":"quantitative"},"y":{"field":"r","type":"quantitative"}}}
 ]}
],
"resolve":{"scale":{"x":"independent","y":"independent","stroke":"independent","fill":"independent","shape":"independent"},"axis":{"x":"independent","y":"independent"}}
}
],
"config":{
 "view":{"stroke":"#444","strokeWidth":0.8},
 "axis":{"labelFont":"Liberation Sans","labelFontSize":9,"labelColor":"#000","titleFont":"Liberation Serif","titleFontStyle":"italic","titleFontWeight":"normal","titleFontSize":12,"titleColor":"#000","grid":false,"domain":false,"tickSize":-2.5,"tickColor":"#444","tickWidth":0.8,"labelPadding":4,"titlePadding":1},
 "axisY":{"titleFontSize":11},
 "legend":{"labelFont":"Liberation Serif","labelFontStyle":"italic","labelFontSize":10,"labelColor":"#000","symbolStrokeWidth":1.5,"rowPadding":0,"padding":0,"labelOffset":3,"symbolSize":150}
}
}
